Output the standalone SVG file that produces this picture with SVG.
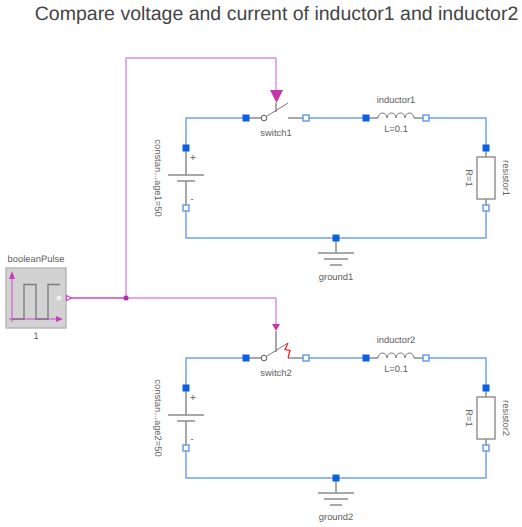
<svg xmlns="http://www.w3.org/2000/svg" width="522" height="527" viewBox="0 0 522 527">
<defs>
<style>
text{font-family:"Liberation Sans",Arial,sans-serif;fill:#606060;font-size:9.4px;text-anchor:middle;text-rendering:geometricPrecision}
.t{font-size:19.5px;fill:#444}
.w{fill:none;stroke:#6ea3ee;stroke-width:1.5}
.b{fill:none;stroke:#c83cc0;stroke-width:1.4;stroke-opacity:.6}
.g{fill:none;stroke:#8c8c8c;stroke-width:1.5}
.l{fill:none;stroke:#777;stroke-width:1}
.pf{fill:#0b5fe0;stroke:none}
.po{fill:#fff;stroke:#5f96ea;stroke-width:1.4}
</style>
<g id="portN"><rect x="-3.500" y="-3.500" width="7" height="7" class="pf"/></g>
<g id="portP"><rect x="-3" y="-3" width="6" height="6" class="po"/></g>
</defs>
<text class="t" x="276.500" y="20">Compare voltage and current of inductor1 and inductor2</text>
<g id="connectors">
<path class="w" d="M246 118H186V148M186 208V238H486V208M486 148V118H426M306 118H366M336 238V241"/>
<path class="w" d="M246 358H186V388M186 448V478H486V448M486 388V358H426M306 358H366M336 478V481"/>
<path class="b" d="M66 298H276V325"/>
<path class="b" d="M66 298H126V58H276V92"/>
<circle cx="126" cy="298" r="2.500" fill="#b828a8"/>
</g>
<g id="booleanPulse">
<rect x="6" y="268" width="60" height="60" fill="#d2d2d2" stroke="#b4b4b4" stroke-width="1.400"/>
<path d="M9 319H60M12 275V322" fill="none" stroke="#d070d0" stroke-width="1.400"/>
<path d="M12 271l-3 8h6zM63 319l-7-3v6z" fill="#c83cc0"/>
<path d="M12 319H24V284.500H36V319H48V284.500H60" fill="none" stroke="#707070" stroke-opacity=".85" stroke-width="1.400"/>
<circle cx="59" cy="298" r="2.500" fill="#f0f0f0"/>
<path d="M66.500 295.500l5 2.500-5 2.500z" fill="#fff" stroke="#d040d0" stroke-width="1.200"/>
<text x="36" y="262">booleanPulse</text>
<text x="36" y="339">1</text>
</g>
<g id="switch1">
<path class="g" d="M246 118H261M276 103V112M288 118H306"/>
<path class="l" d="M267 116L288 103"/>
<circle cx="264" cy="118" r="2.800" fill="#fff" stroke="#555" stroke-width="1"/>
<path d="M270 90h13l-6.500 13z" fill="#c438ac"/>
<use href="#portN" x="246" y="118"/><use href="#portP" x="306" y="118"/>
<text x="276" y="136">switch1</text>
</g>
<g id="inductor1">
<path class="g" d="M366 118H378M414 118H426"/>
<path class="l" d="M378 118a4.500 5 0 0 1 9 0a4.500 5 0 0 1 9 0a4.500 5 0 0 1 9 0a4.500 5 0 0 1 9 0"/>
<use href="#portN" x="366" y="118"/><use href="#portP" x="426" y="118"/>
<text x="396" y="103">inductor1</text>
<text x="396" y="132">L=0.1</text>
</g>
<g id="resistor1">
<path class="g" d="M486 148V157M486 199V208"/>
<rect x="477" y="157" width="18" height="42" fill="#fff" stroke="#8c8c8c" stroke-width="1.400"/>
<use href="#portN" x="486" y="148"/><use href="#portP" x="486" y="208"/>
<text transform="translate(465.500 178) rotate(90)">R=1</text>
<text transform="translate(503 178) rotate(90)">resistor1</text>
</g>
<g id="constantVoltage1">
<path class="g" d="M186 148V175M168 175H204M177 181H195M186 181V208"/>
<use href="#portN" x="186" y="148"/><use href="#portP" x="186" y="208"/>
<text x="193" y="160.500" style="font-size:11px">+</text>
<text x="192" y="202">-</text>
<text transform="translate(155 178) rotate(90)">constan...age1=50</text>
</g>
<g id="ground1">
<path class="g" d="M336 238V253M318 253H354M324 259H348M330 265H342"/>
<use href="#portN" x="336" y="238"/>
<text x="336" y="280">ground1</text>
</g>
<g id="switch2">
<path class="g" d="M246 358H261M276 331V352M288 358H306"/>
<path class="l" d="M267 356L288 343"/>
<path d="M288 343L285 349.500L290 350.500L288 358" fill="none" stroke="#ff1010" stroke-width="1.200"/>
<circle cx="264" cy="358" r="2.800" fill="#fff" stroke="#555" stroke-width="1"/>
<path d="M272 324h8l-4 7z" fill="#c438ac"/>
<use href="#portN" x="246" y="358"/><use href="#portP" x="306" y="358"/>
<text x="276" y="376">switch2</text>
</g>
<g id="inductor2">
<path class="g" d="M366 358H378M414 358H426"/>
<path class="l" d="M378 358a4.500 5 0 0 1 9 0a4.500 5 0 0 1 9 0a4.500 5 0 0 1 9 0a4.500 5 0 0 1 9 0"/>
<use href="#portN" x="366" y="358"/><use href="#portP" x="426" y="358"/>
<text x="396" y="343">inductor2</text>
<text x="396" y="372">L=0.1</text>
</g>
<g id="resistor2">
<path class="g" d="M486 388V397M486 439V448"/>
<rect x="477" y="397" width="18" height="42" fill="#fff" stroke="#8c8c8c" stroke-width="1.400"/>
<use href="#portN" x="486" y="388"/><use href="#portP" x="486" y="448"/>
<text transform="translate(465.500 418) rotate(90)">R=1</text>
<text transform="translate(503 418) rotate(90)">resistor2</text>
</g>
<g id="constantVoltage2">
<path class="g" d="M186 388V415M168 415H204M177 421H195M186 421V448"/>
<use href="#portN" x="186" y="388"/><use href="#portP" x="186" y="448"/>
<text x="193" y="400.500" style="font-size:11px">+</text>
<text x="192" y="442">-</text>
<text transform="translate(155 418) rotate(90)">constan...age2=50</text>
</g>
<g id="ground2">
<path class="g" d="M336 478V493M318 493H354M324 499H348M330 505H342"/>
<use href="#portN" x="336" y="478"/>
<text x="336" y="520">ground2</text>
</g>
</svg>
